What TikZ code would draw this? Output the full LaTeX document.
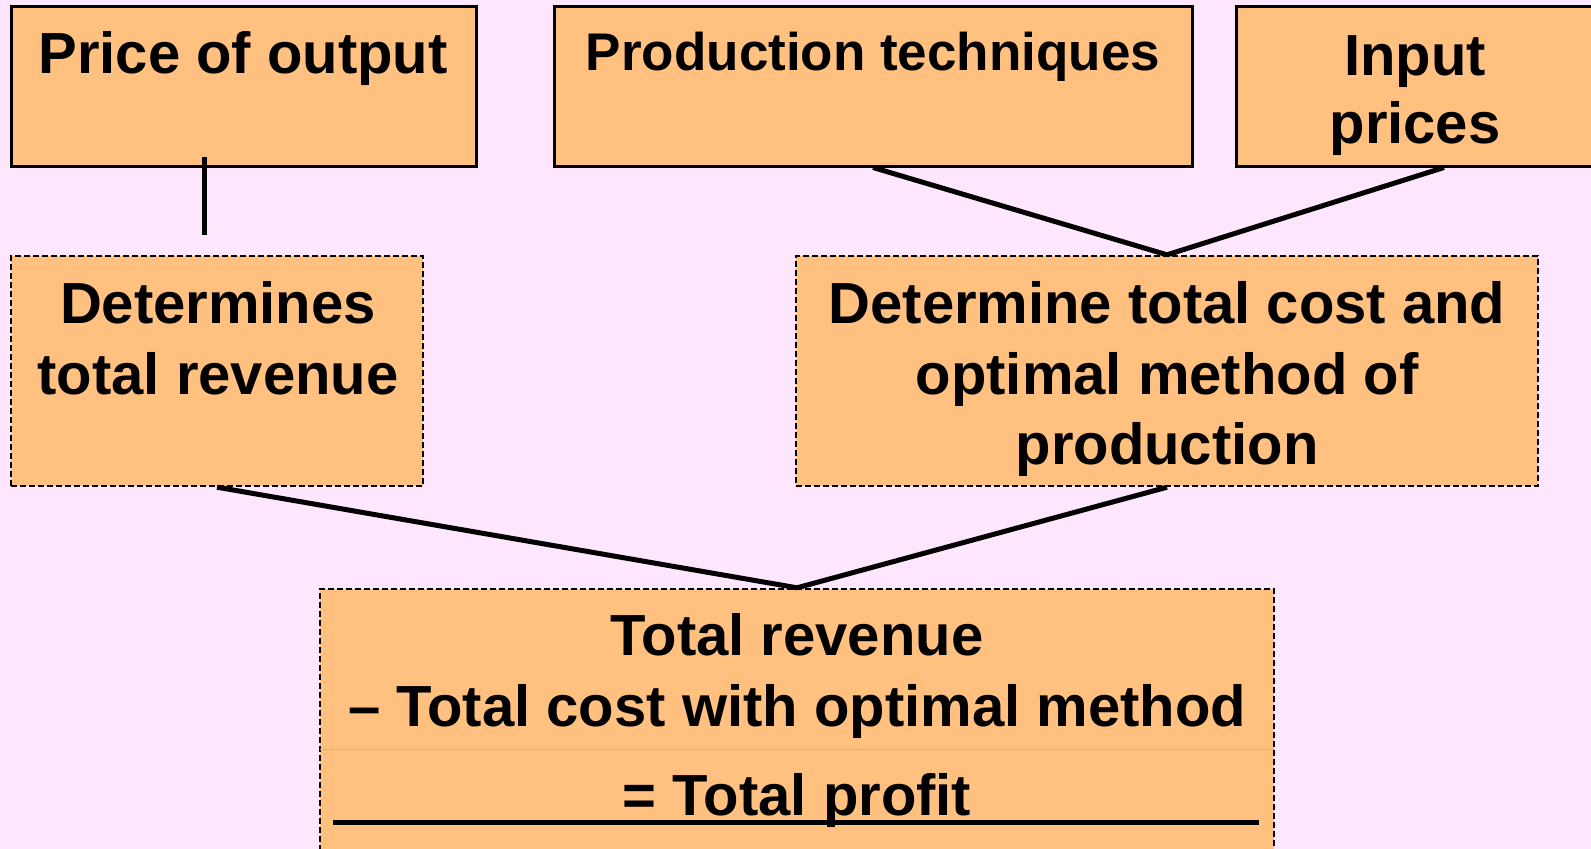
\documentclass[tikz,border=0pt]{standalone}
\usepackage{fontspec}
\setmainfont{Liberation Sans}
\definecolor{bgpink}{HTML}{FFE6FF}
\definecolor{peach}{HTML}{FFC080}
\definecolor{rule}{HTML}{FFB040}
\begin{document}
\begin{tikzpicture}[x=1pt,y=-1pt,
  solidbox/.style={draw=black,line width=3pt,fill=peach,rectangle,inner sep=0pt},
  dashbox/.style={draw=black,line width=2.4pt,fill=peach,rectangle,inner sep=0pt,
    dash pattern=on 6pt off 3pt},
  lbl/.style={anchor=base,inner sep=0pt,font=\bfseries\fontsize{58}{70}\selectfont},
  lblsmall/.style={anchor=base,inner sep=0pt,font=\bfseries\fontsize{53}{64}\selectfont},
  link/.style={draw=black,line width=5pt}]
  % page and background
  \fill[bgpink] (0,0) rectangle (1591,849);
  \useasboundingbox (0,0) rectangle (1591,849);

  % top row: the three inputs
  \node[solidbox,minimum width=465pt,minimum height=160pt] (price) at (243.5,86) {};
  \node[solidbox,minimum width=638pt,minimum height=160pt] (tech) at (873,86) {};
  \node[solidbox,minimum width=360pt,minimum height=160pt] (inputs) at (1416,86) {};
  \node[lbl] (priceT) at (243,73) {Price of output};
  \node[lblsmall] (techT) at (873,70) {Production techniques};
  \node[lbl] (inputsT1) at (1415,75) {Input};
  \node[lbl] (inputsT2) at (1415,143) {prices};

  % middle row
  \node[dashbox,minimum width=412pt,minimum height=230pt] (rev) at (217,371) {};
  \node[dashbox,minimum width=742pt,minimum height=230pt] (cost) at (1167,371) {};
  \node[lbl] (revT1) at (218,323) {Determines};
  \node[lbl] (revT2) at (218,394) {total revenue};
  \node[lbl] (costT1) at (1167,323) {Determine total cost and};
  \node[lbl] (costT2) at (1167,394) {optimal method of};
  \node[lbl] (costT3) at (1167,464) {production};

  % bottom result box
  \node[dashbox,minimum width=954pt,minimum height=275pt] (profit) at (797,726.5) {};
  \coordinate (sepL) at (320,749);
  \coordinate (sepR) at (1274,749);
  \draw[rule,line width=1pt] (sepL) -- (sepR);
  \node[lbl] (profitT1) at (797,655) {Total revenue};
  \node[lbl] (profitT2) at (797,726) {\textendash\ Total cost with optimal method};
  \node[lbl] (profitT3) at (797,815) {= Total profit};
  \coordinate (ulL) at (333,822);
  \coordinate (ulR) at (1259,822);
  \draw[line width=5pt] (ulL) -- (ulR);

  % connectors
  \coordinate (priceStub) at (204,157);
  \coordinate (priceEnd) at (204,235);
  \draw[link] (priceStub) -- (priceEnd);
  \draw[link] (tech.south) -- (cost.north);
  \draw[link] ([xshift=28pt]inputs.south) -- (cost.north);
  \draw[link] (rev.south) -- (profit.north);
  \draw[link] (cost.south) -- (profit.north);
\end{tikzpicture}
\end{document}
